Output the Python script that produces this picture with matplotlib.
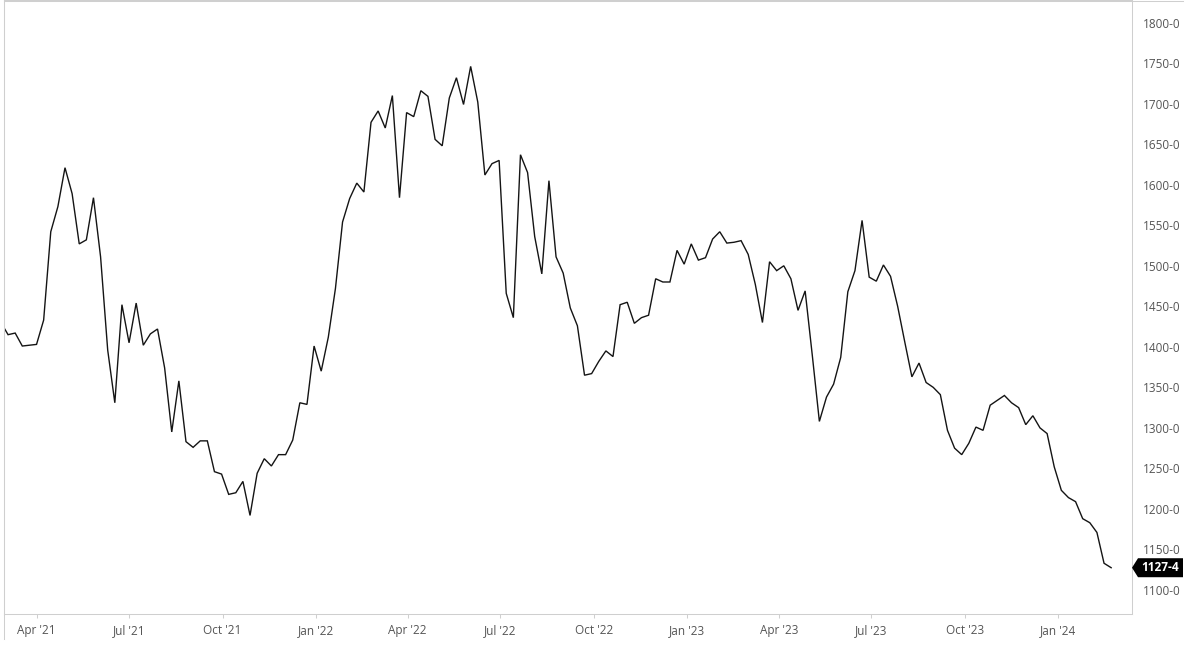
import matplotlib
matplotlib.use("Agg")
import matplotlib.pyplot as plt
import matplotlib.dates as mdates
from matplotlib.lines import Line2D
from matplotlib.patches import Polygon
from matplotlib.transforms import IdentityTransform
import pandas as pd

plt.rcParams['font.family'] = ['Open Sans', 'DejaVu Sans']

# ---- data (weekly closes) ----
start_date = "2021-02-25"
prices = [
    1430,
    1415, 1417, 1401, 1402, 1403, 1433, 1542, 1573, 1621, 1589,
    1527, 1532, 1584, 1511, 1396, 1331, 1452, 1405, 1454, 1402,
    1416, 1422, 1374, 1295, 1358, 1283, 1276, 1284, 1284, 1246,
    1243, 1218, 1220, 1234, 1192, 1244, 1262, 1253, 1267, 1267,
    1285, 1331, 1329, 1401, 1370, 1412, 1472, 1554, 1583, 1602,
    1591, 1677, 1691, 1670, 1710, 1584, 1689, 1684, 1716, 1709,
    1656, 1648, 1707, 1732, 1699, 1746, 1702, 1612, 1626, 1630,
    1466, 1436, 1637, 1615, 1536, 1490, 1605, 1511, 1491, 1448,
    1426, 1365, 1367, 1382, 1395, 1388, 1452, 1455, 1429, 1436,
    1439, 1484, 1480, 1480, 1519, 1502, 1527, 1507, 1510, 1533,
    1542, 1528, 1529, 1531, 1514, 1477, 1430, 1505, 1494, 1500,
    1484, 1445, 1469, 1390, 1308, 1338, 1354, 1387, 1468, 1494,
    1556, 1486, 1481, 1501, 1487, 1450, 1406, 1363, 1380, 1356,
    1350, 1341, 1297, 1275, 1267, 1281, 1301, 1297, 1328, 1334,
    1340, 1331, 1325, 1304, 1315, 1300, 1293, 1252, 1223, 1214,
    1209, 1188, 1183, 1171, 1133, 1127.5,
]
dates = pd.date_range(start_date, periods=len(prices), freq="7D")
last_label = "1127-4"
y_ticks = list(range(1100, 1801, 50))
x_limits = ("2021-02-28", "2024-03-13 12:00")
y_limits = (1070.4, 1827.9)

# ---- figure ----
W, H = 1200, 648
fig = plt.figure(figsize=(W / 100, H / 100), dpi=100)
ax_l, ax_r, ax_t, ax_b = 4, 1132, 0, 614
ax = fig.add_axes([ax_l / W, (H - ax_b) / H, (ax_r - ax_l) / W, (ax_b - ax_t) / H])

ax.plot(dates, prices, color="#141414", lw=1.0, solid_joinstyle="miter")

ax.set_xlim(pd.Timestamp(x_limits[0]), pd.Timestamp(x_limits[1]))
ax.set_ylim(*y_limits)

grey = "#cfcfcf"
for s in ax.spines.values():
    s.set_color(grey)
    s.set_linewidth(0.75)

ax.xaxis.set_major_locator(mdates.MonthLocator(bymonth=[1, 4, 7, 10]))
ax.xaxis.set_major_formatter(mdates.DateFormatter("%b '%y"))
ax.tick_params(axis="x", direction="out", length=3, width=0.75, color=grey,
               labelcolor="#555555", labelsize=8.5, pad=4)

ax.yaxis.tick_right()
ax.set_yticks(y_ticks)
ax.set_yticklabels([f"{v}-0" for v in y_ticks])
ax.tick_params(axis="y", length=0, labelcolor="#555555", labelsize=8.5, pad=8)
for lab in ax.get_yticklabels():
    lab.set_horizontalalignment("left")

# outer frame lines (top extends over label area, left extends below axis)
fig.add_artist(Line2D([ax_l / W, 1183 / W], [1 - 0.5 / H, 1 - 0.5 / H],
                      color=grey, lw=0.75, transform=fig.transFigure))
fig.add_artist(Line2D([ax_l / W, ax_l / W], [1, (H - 639) / H],
                      color=grey, lw=0.75, transform=fig.transFigure))

# last-value callout
fig.canvas.draw()
px, py = ax.transData.transform((mdates.date2num(dates[-1]), prices[-1]))
x_tip = ax.transAxes.transform((1, 0))[0]
hh = 9.5
poly = Polygon([(x_tip, py), (x_tip + 6, py + hh), (1183, py + hh),
                (1183, py - hh), (x_tip + 6, py - hh)], closed=True,
               facecolor="#000000", edgecolor="none",
               transform=IdentityTransform(), clip_on=False)
fig.add_artist(poly)
fig.text((x_tip + 6 + 1183) / 2 / W, py / H, last_label, color="white",
         fontsize=8.5, fontweight="bold", ha="center", va="center")

fig.savefig("out.png", dpi=100, facecolor="white")
